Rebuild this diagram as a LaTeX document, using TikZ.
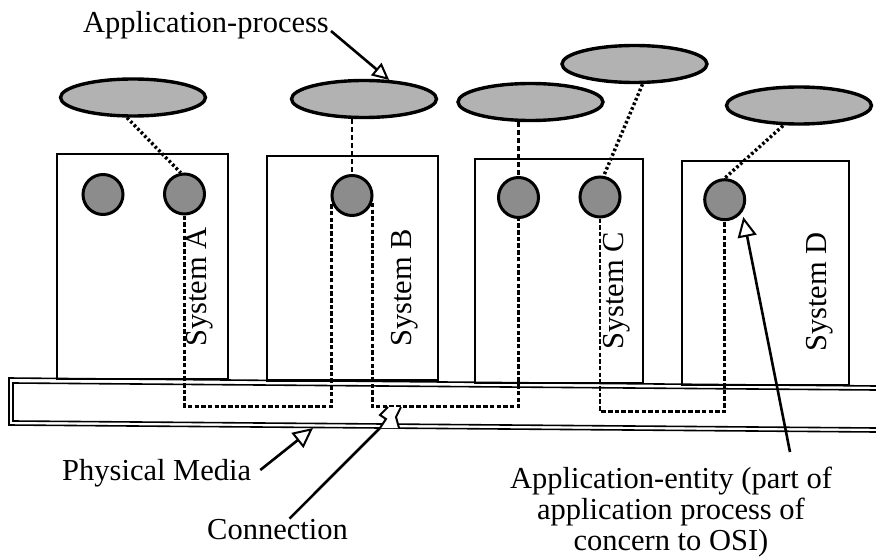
\documentclass[tikz,border=0pt]{standalone}
\usepackage{fontspec}
\setmainfont{Liberation Serif}
\usetikzlibrary{arrows.meta,calc,shapes.geometric}
\tikzset{
 apnode/.style={ellipse, draw, line width=3.4pt, fill=black!30, minimum width=145pt, minimum height=37pt, inner sep=0pt},
 aenode/.style={circle, draw, line width=3pt, fill=black!45, minimum size=40pt, inner sep=0pt},
 sysbox/.style={draw, line width=2.4pt, fill=white, inner sep=0pt},
 lbl/.style={font=\fontsize{30.5}{31}\selectfont, inner sep=0pt},
 syslbl/.style={lbl, rotate=90},
 dotlink/.style={line width=3.4pt, dash pattern=on 2.6pt off 2.4pt},
 dashlink/.style={line width=2.4pt, dash pattern=on 5pt off 3pt},
 conn/.style={line width=2.8pt, dash pattern=on 4.5pt off 2.2pt},
 barline/.style={line width=1.6pt},
 ptr/.style={line width=2.6pt, -{Triangle[open, length=20pt, width=19pt, line width=2pt]}},
 ptrsmall/.style={line width=2.6pt, -{Triangle[open, length=17pt, width=16pt, line width=2pt]}},
 bolt/.style={line width=2pt, line join=miter},
}
\begin{document}
\begin{tikzpicture}[x=1pt,y=-1pt]
\useasboundingbox (0,0) rectangle (876,559);

% systems
\node[sysbox, minimum width=171pt, minimum height=225pt] (sA) at (142.5,266.5) {};
\node[sysbox, minimum width=171pt, minimum height=224.5pt] (sB) at (352.5,268.25) {};
\node[sysbox, minimum width=168pt, minimum height=224pt] (sC) at (559,271) {};
\node[sysbox, minimum width=167pt, minimum height=224pt] (sD) at (765.5,273) {};

\node[syslbl] (lA) at (200,287) {System A};
\node[syslbl] (lB) at (405,288) {System B};
\node[syslbl] (lC) at (617,291) {System C};
\node[syslbl] (lD) at (820,292) {System D};

% physical media bar
\draw[barline] (876,386) -- (9,378) -- (9,425) -- (876,432);
\draw[barline] (876,390) -- (13,383) -- (13,421) -- (876,428);

% application processes
\node[apnode] (apA) at (133,97.5) {};
\node[apnode] (apB) at (364,99) {};
\node[apnode] (apC1) at (530.5,102) {};
\node[apnode] (apC2) at (634.5,64) {};
\node[apnode] (apD) at (799,105.5) {};

% application entities
\node[aenode] (aeA1) at (103,194.5) {};
\node[aenode] (aeA2) at (184.5,194) {};
\node[aenode] (aeB) at (352,195.5) {};
\node[aenode] (aeC1) at (518.5,197.5) {};
\node[aenode] (aeC2) at (600,197) {};
\node[aenode] (aeD) at (724.7,199.7) {};

% process to entity links
\draw[dotlink] ($(apA.south)+(-6,0)$) -- (aeA2.100);
\draw[dashlink] (apB.south -| aeB.north) -- (aeB.north);
\draw[dashlink] (apC1.south -| aeC1.north) -- (aeC1.north);
\draw[dotlink] ($(apC2.south)+(8,0)$) -- (aeC2.80);
\draw[dotlink] ($(apD.south)+(-16,0)$) -- (aeD.north);

% connections
\draw[conn] (aeA2.south) -- ++(0,191) -| (aeB.200);
\draw[conn] (aeB.-20) -- ++(0,204) -| (aeC1.south);
\draw[conn] (aeC2.south) -- ++(0,193) -| (aeD.south);

% labels
\node[lbl, anchor=base west] (apText) at (83,33) {Application-process};
\node[lbl, anchor=base west] (pmText) at (62,480) {Physical Media};
\node[lbl, anchor=base west] (conText) at (207,539) {Connection};
\node[lbl, align=center] (aeText) at (671,512.5) {Application-entity (part of\\application process of\\concern to OSI)};

% pointers
\coordinate (pmTip) at (313,428);
\coordinate (conTip) at (380,428);
\coordinate (aeStart) at (790,452);

\draw[ptrsmall] ($(apText.base east)+(2,-2)$) -- (apB.37);
\draw[ptr] ($(pmText.base east)+(9,-10)$) -- (pmTip);
\draw[line width=2.6pt] ($(conText.north)+(12,0)$) -- (conTip);
\fill[white] (conTip) -- (386,419) -- (380,415) -- (388,407) -- (401,407) -- (396,417) -- (399,428) -- cycle;
\draw[bolt] (conTip) -- (386,419) -- (380,415) -- (388,407);
\draw[bolt] (401,407) -- (396,417) -- (399,428);
\draw[ptr, shorten >=5pt] (aeStart) -- (aeD.-35);
\end{tikzpicture}
\end{document}
